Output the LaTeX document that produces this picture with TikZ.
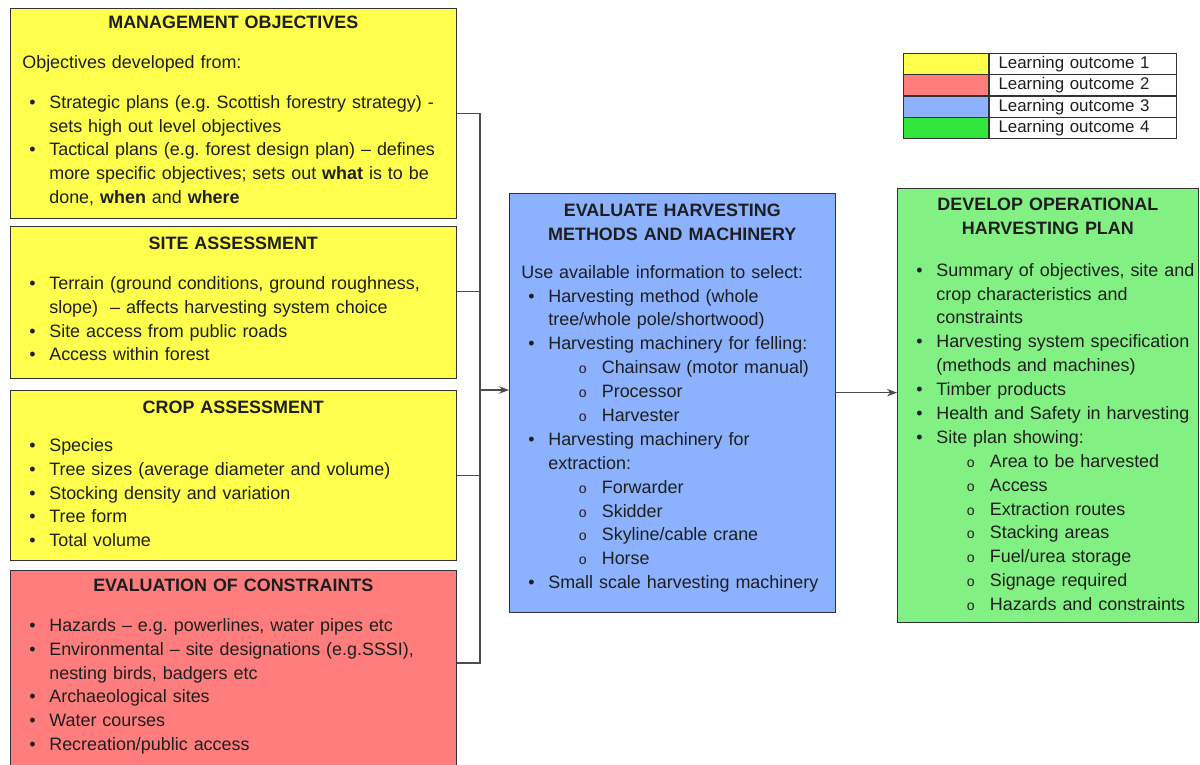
\documentclass[tikz,border=0pt]{standalone}
\usepackage{fontspec}
\setmainfont{Liberation Sans}
\usepackage{tikz}
\usetikzlibrary{arrows.meta}
\usepackage{xcolor}

\definecolor{loone}{RGB}{255,255,77}
\definecolor{lotwo}{RGB}{255,125,125}
\definecolor{lothree}{RGB}{140,178,255}
\definecolor{lofour}{RGB}{130,240,130}
\definecolor{lofourkey}{RGB}{50,230,60}
\definecolor{ink}{RGB}{30,30,30}

\newlength\bulx \setlength\bulx{0.14cm}
\newlength\txtx \setlength\txtx{0.54cm}
\newlength\subbx \setlength\subbx{1.15cm}
\newlength\subtx \setlength\subtx{1.61cm}

\newcommand{\btitle}[1]{{\centering\bfseries #1\par}}
\newcommand{\bline}[1]{\par\noindent\mbox{#1}\par}
\newcommand{\bitem}[1]{\par\noindent\hbox to\txtx{\hspace{\bulx}\textbullet\hfil}\mbox{#1}\par}
\newcommand{\bcont}[1]{\par\noindent\hspace*{\txtx}\mbox{#1}\par}
\newcommand{\sitem}[1]{\par\noindent\hbox to\subtx{\hspace{\subbx}{\footnotesize o}\hfil}\mbox{#1}\par}
\newcommand{\bgap}{\vspace{0.32cm}}
\frenchspacing

\begin{document}
\begin{tikzpicture}[x=0.02cm, y=-0.02cm, >={Stealth[length=2mm,width=1.5mm]},
    box/.style={draw=black!80, line width=0.8pt, anchor=north west, inner sep=0pt},
    txt/.style={anchor=north west, inner sep=0pt, align=left, text=ink,
      font=\fontsize{10.2pt}{13.6pt}\selectfont},
    key/.style={draw=black!80, line width=0.6pt, anchor=north west, inner sep=0pt,
      minimum width=1.7cm, minimum height=0.425cm},
    keytext/.style={key, minimum width=0pt, text width=3.38cm, inner xsep=0.18cm,
      align=left, text=ink, font=\fontsize{9.6pt}{10pt}\selectfont},
    link/.style={draw=black!70, line width=0.6pt}]
    \useasboundingbox (0,0) rectangle (1200,764);
    %%%%%%%%%%%%%%%%%%%%%%%%%%%%%%%%%%
    \node[box, fill=loone, minimum width=8.92cm, minimum height=4.2cm] (mo) at (10,8) {}; % objectives
    \node[txt, text width=8.44cm] (mo text) at (22,15.5) {%
      \btitle{MANAGEMENT OBJECTIVES}\bgap
      \bline{Objectives developed from:}\bgap
      \bitem{Strategic plans (e.g. Scottish forestry strategy) -}
      \bcont{sets high out level objectives}
      \bitem{Tactical plans (e.g. forest design plan) – defines}
      \bcont{more specific objectives; sets out \textbf{what} is to be}
      \bcont{done, \textbf{when} and \textbf{where}}};
    \node[box, fill=loone, minimum width=8.92cm, minimum height=3.04cm] (sa) at (10,226) {}; % site
    \node[txt, text width=8.44cm] (sa text) at (22,236.5) {%
      \btitle{SITE ASSESSMENT}\bgap
      \bitem{Terrain (ground conditions, ground roughness,}
      \bcont{slope)\ \ – affects harvesting system choice}
      \bitem{Site access from public roads}
      \bitem{Access within forest}};
    \node[box, fill=loone, minimum width=8.92cm, minimum height=3.4cm] (ca) at (10,390) {}; % crop
    \node[txt, text width=8.44cm] (ca text) at (22,400.5) {%
      \btitle{CROP ASSESSMENT}\vspace{0.28cm}
      \bitem{Species}
      \bitem{Tree sizes (average diameter and volume)}
      \bitem{Stocking density and variation}
      \bitem{Tree form}
      \bitem{Total volume}};
    \node[box, fill=lotwo, minimum width=8.92cm, minimum height=4.4cm] (ec) at (10,570) {}; % constraints
    \node[txt, text width=8.44cm] (ec text) at (22,578.5) {%
      \btitle{EVALUATION OF CONSTRAINTS}\bgap
      \bitem{Hazards – e.g. powerlines, water pipes etc}
      \bitem{Environmental – site designations (e.g.SSSI),}
      \bcont{nesting birds, badgers etc}
      \bitem{Archaeological sites}
      \bitem{Water courses}
      \bitem{Recreation/public access}};
    %%%%%%%%%%%%%%%%%%%%%%%%%%%%%%%%%%
    \node[box, fill=lothree, minimum width=6.52cm, minimum height=8.38cm] (eval) at (509,193) {}; % methods
    \node[txt, text width=6.04cm] (eval text) at (521,203.5) {%
      \btitle{EVALUATE HARVESTING\\METHODS AND MACHINERY}\vspace{0.28cm}
      \bline{Use available information to select:}
      \bitem{Harvesting method (whole}
      \bcont{tree/whole pole/shortwood)}
      \bitem{Harvesting machinery for felling:}
      \sitem{Chainsaw (motor manual)}
      \sitem{Processor}
      \sitem{Harvester}
      \bitem{Harvesting machinery for}
      \bcont{extraction:}
      \sitem{Forwarder}
      \sitem{Skidder}
      \sitem{Skyline/cable crane}
      \sitem{Horse}
      \bitem{Small scale harvesting machinery}};
    \node[box, fill=lofour, minimum width=6.02cm, minimum height=8.68cm] (plan) at (897,188) {}; % plan
    \node[txt, text width=5.54cm] (plan text) at (909,197.5) {%
      \btitle{DEVELOP OPERATIONAL\\HARVESTING PLAN}\vspace{0.36cm}
      \bitem{Summary of objectives, site and}
      \bcont{crop characteristics and}
      \bcont{constraints}
      \bitem{Harvesting system specification}
      \bcont{(methods and machines)}
      \bitem{Timber products}
      \bitem{Health and Safety in harvesting}
      \bitem{Site plan showing:}
      \sitem{Area to be harvested}
      \sitem{Access}
      \sitem{Extraction routes}
      \sitem{Stacking areas}
      \sitem{Fuel/urea storage}
      \sitem{Signage required}
      \sitem{Hazards and constraints}};
    %%%%%%%%%%%%%%%%%%%%%%%%%%%%%%%%%%
    \foreach \c/\t [count=\i] in {loone/1,lotwo/2,lothree/3,lofourkey/4}{
      \node[key, fill=\c] (key\i) at (903,{53+21.25*(\i-1)}) {};
      \node[keytext] (keytext\i) at (key\i.north east) {Learning outcome \t};
    }
    %%%%%%%%%%%%%%%%%%%%%%%%%%%%%%%%%%
    \coordinate (join) at (480,390); % bracket
    \coordinate (sa tick) at ([yshift=0.22cm]sa.east);
    \coordinate (ec tick) at ([yshift=-1.86cm]ec.north east);
    \coordinate (out) at ([yshift=0.21cm]eval.east);
    \draw[link] (mo.east) -| (ec tick -| join) -- (ec tick);
    \draw[link] (sa tick) -- (sa tick -| join);
    \draw[link] (ca.east) -- (ca.east -| join);
    \draw[link,->] (join) -- (join -| eval.west);
    \draw[link,->] (out) -- (out -| plan.west);
\end{tikzpicture}
\end{document}
